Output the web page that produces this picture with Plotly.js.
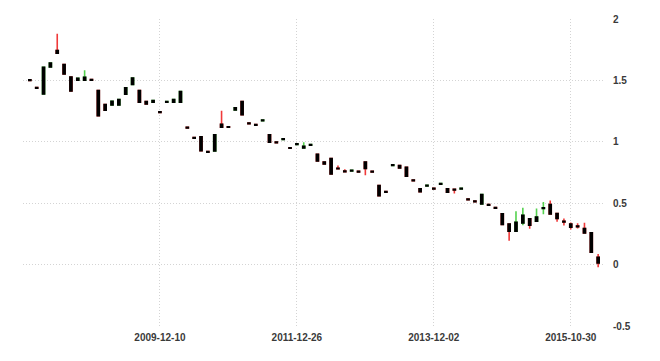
<!DOCTYPE html>
<html>
<head>
<meta charset="utf-8">
<script src="https://cdn.plot.ly/plotly-3.0.1.min.js"></script>
<style>html,body{margin:0;padding:0;background:#fff}#chart{width:660px;height:361px}</style>
</head>
<body>
<div id="chart"></div>
<script>
// Candle dates (one candle per ~25 trading days)
const dates = [
"2008-02-04","2008-03-10","2008-04-14","2008-05-19","2008-06-23","2008-07-28","2008-09-02","2008-10-08","2008-11-13","2008-12-19",
"2009-01-26","2009-03-02","2009-04-06","2009-05-11","2009-06-15","2009-07-20","2009-08-24","2009-09-29","2009-11-04","2009-12-10",
"2010-01-18","2010-02-24","2010-04-01","2010-05-10","2010-06-16","2010-07-23","2010-08-30","2010-10-06","2010-11-12","2010-12-20",
"2011-01-26","2011-03-04","2011-04-11","2011-05-18","2011-06-24","2011-08-01","2011-09-07","2011-10-14","2011-11-21","2011-12-26",
"2012-01-30","2012-03-06","2012-04-10","2012-05-16","2012-06-20","2012-07-25","2012-08-30","2012-10-04","2012-11-08","2012-12-13",
"2013-01-17","2013-02-22","2013-03-29","2013-05-03","2013-06-07","2013-07-12","2013-08-16","2013-09-20","2013-10-28","2013-12-02",
"2014-01-06","2014-02-10","2014-03-17","2014-04-21","2014-05-26","2014-06-30","2014-08-04","2014-09-08","2014-10-13","2014-11-17",
"2014-12-22","2015-01-26","2015-03-02","2015-04-06","2015-05-11","2015-06-15","2015-07-20","2015-08-24","2015-09-25","2015-10-30",
"2015-12-04","2016-01-08","2016-02-12","2016-03-18"
];
const openV = [
1.505,1.442,1.390,1.610,1.743,1.629,1.528,1.501,1.501,1.506,
1.417,1.303,1.300,1.300,1.387,1.468,1.417,1.327,1.322,1.245,
1.322,1.322,1.322,1.118,1.034,1.040,0.920,0.926,1.143,1.123,
1.260,1.327,1.153,1.140,1.172,1.056,0.998,1.020,0.952,0.978,
0.950,0.972,0.898,0.836,0.863,0.784,0.762,0.762,0.759,0.836,
0.759,0.643,0.594,0.807,0.806,0.792,0.689,0.617,0.640,0.621,
0.654,0.617,0.613,0.616,0.534,0.518,0.494,0.488,0.464,0.413,
0.331,0.271,0.339,0.372,0.353,0.457,0.489,0.415,0.352,0.331,
0.314,0.293,0.258,0.059
];
const highV = [
1.505,1.442,1.607,1.642,1.879,1.629,1.528,1.517,1.582,1.506,
1.417,1.303,1.330,1.344,1.439,1.520,1.417,1.327,1.336,1.245,
1.327,1.344,1.409,1.118,1.034,1.040,0.920,1.056,1.252,1.123,
1.276,1.327,1.153,1.140,1.177,1.056,0.998,1.025,0.952,0.983,
0.996,0.977,0.898,0.836,0.863,0.806,0.776,0.767,0.759,0.836,
0.759,0.643,0.594,0.818,0.806,0.792,0.689,0.617,0.645,0.621,
0.659,0.617,0.613,0.621,0.534,0.518,0.570,0.488,0.464,0.413,
0.331,0.434,0.462,0.372,0.456,0.509,0.521,0.415,0.375,0.342,
0.336,0.340,0.258,0.087
];
const lowV = [
1.500,1.437,1.390,1.610,1.721,1.553,1.414,1.501,1.501,1.501,
1.213,1.257,1.300,1.300,1.387,1.468,1.322,1.309,1.322,1.240,
1.322,1.322,1.322,1.112,1.029,0.928,0.915,0.926,1.118,1.118,
1.260,1.221,1.148,1.135,1.172,0.996,0.993,1.020,0.947,0.978,
0.950,0.972,0.844,0.820,0.739,0.780,0.757,0.762,0.754,0.727,
0.754,0.562,0.589,0.807,0.787,0.719,0.684,0.594,0.640,0.616,
0.654,0.589,0.578,0.616,0.529,0.513,0.494,0.483,0.459,0.326,
0.195,0.271,0.320,0.291,0.353,0.410,0.413,0.348,0.318,0.285,
0.293,0.258,0.100,-0.022
];
const closeV = [
1.500,1.437,1.607,1.642,1.721,1.553,1.414,1.517,1.525,1.501,
1.213,1.257,1.330,1.344,1.439,1.520,1.322,1.309,1.336,1.240,
1.327,1.344,1.409,1.112,1.029,0.928,0.915,1.056,1.118,1.118,
1.276,1.221,1.148,1.135,1.177,0.996,0.993,1.025,0.947,0.983,
0.963,0.977,0.844,0.820,0.739,0.780,0.757,0.767,0.754,0.782,
0.754,0.562,0.589,0.812,0.787,0.719,0.684,0.594,0.645,0.616,
0.659,0.589,0.608,0.621,0.529,0.513,0.570,0.483,0.459,0.326,
0.271,0.344,0.401,0.320,0.388,0.462,0.413,0.375,0.347,0.304,
0.309,0.258,0.100,0.014
];
const xTickLabels = ["2009-12-10","2011-12-26","2013-12-02","2015-10-30"];
const yTicks = [-0.5, 0, 0.5, 1, 1.5, 2];

const bodyHigh = openV.map((o,i)=>Math.max(o, closeV[i]));
const bodyLow = openV.map((o,i)=>Math.min(o, closeV[i]));

const wicks = {
  type:'candlestick', x:dates, open:openV, high:highV, low:lowV, close:closeV,
  increasing:{line:{color:'#55d24f', width:1.6}, fillcolor:'rgba(0,0,0,0)'},
  decreasing:{line:{color:'#f03a3a', width:1.6}, fillcolor:'rgba(0,0,0,0)'},
  showlegend:false, hoverinfo:'skip'
};
const bodies = {
  type:'candlestick', x:dates, open:openV, high:bodyHigh, low:bodyLow, close:closeV,
  increasing:{line:{color:'#000', width:1.6}, fillcolor:'#000'},
  decreasing:{line:{color:'#000', width:1.6}, fillcolor:'#000'},
  showlegend:false, hoverinfo:'skip'
};
const tickFont = {family:'"Liberation Sans", Arial, sans-serif', size:10, color:'#3a3a3a', weight:'bold'};
const layout = {
  width:660, height:361,
  margin:{l:23, r:55, t:19, b:35},
  paper_bgcolor:'#fff', plot_bgcolor:'#fff',
  boxgap:0.7, boxgroupgap:0, boxmode:'overlay',
  xaxis:{type:'category', categoryorder:'array', categoryarray:dates, range:[-1,84],
    rangeslider:{visible:false}, tickmode:'array', tickvals:xTickLabels, ticktext:xTickLabels,
    showgrid:true, gridcolor:'#d4d4d4', griddash:'1px,2px', gridwidth:1,
    showline:false, zeroline:false, ticks:'', tickfont:tickFont, ticklabelstandoff:4},
  yaxis:{side:'right', range:[-0.5,2], tickmode:'array', tickvals:yTicks,
    ticktext:yTicks.map(v=>String(v)),
    showgrid:true, gridcolor:'#d4d4d4', griddash:'1px,2px', gridwidth:1,
    zeroline:false, showline:false, ticks:'', tickfont:tickFont, ticklabelstandoff:7},
  showlegend:false
};
Plotly.newPlot('chart', [wicks, bodies], layout, {staticPlot:true, displayModeBar:false});
</script>
</body>
</html>
